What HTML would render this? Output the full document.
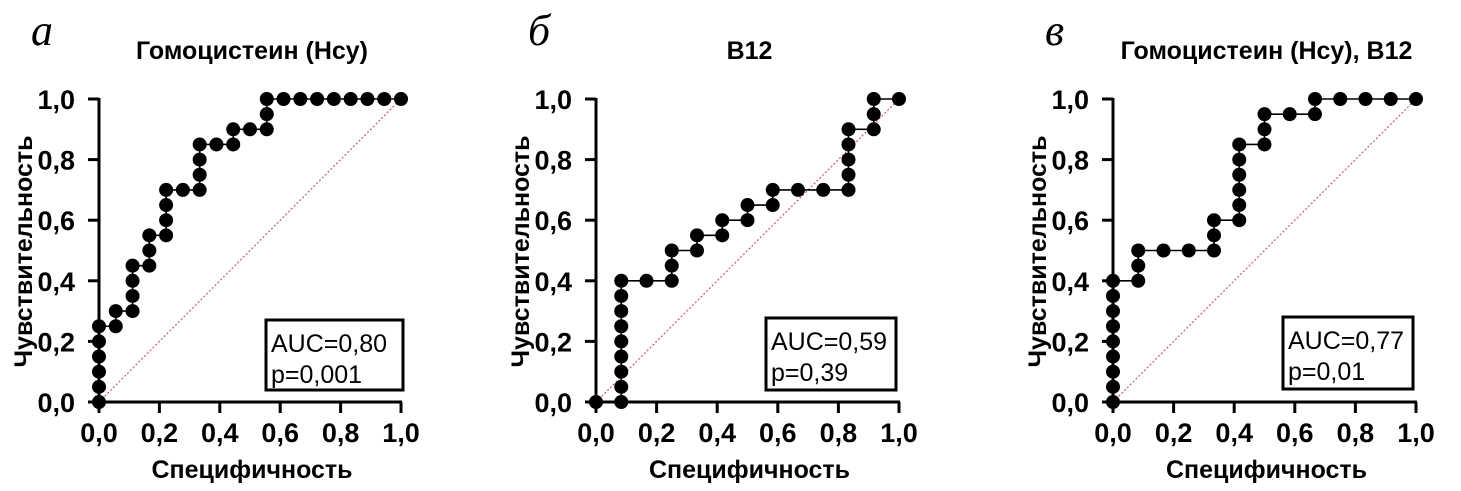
<!DOCTYPE html>
<html><head><meta charset="utf-8"><style>
body{margin:0;background:#fff;}
svg{display:block;font-family:"Liberation Sans",sans-serif;}
</style></head><body>
<svg id="chart" width="1461" height="491"></svg>
<script>
const ticks = [0, 0.2, 0.4, 0.6, 0.8, 1.0];
const tickLabels = ["0,0","0,2","0,4","0,6","0,8","1,0"];
const titles = ["Гомоцистеин (Hcy)", "B12", "Гомоцистеин (Hcy), B12"];
const letters = ["а", "б", "в"];
const aucLabels = ["AUC=0,80", "AUC=0,59", "AUC=0,77"];
const pLabels = ["p=0,001", "p=0,39", "p=0,01"];
const fprA = [0,0,0,0,0,0,1,1,2,2,2,2,3,3,3,4,4,4,4,5,6,6,6,6,7,8,8,9,10,10,10,11,12,13,14,15,16,17,18].map(v=>v/18);
const tprA = [0,.05,.1,.15,.2,.25,.25,.3,.3,.35,.4,.45,.45,.5,.55,.55,.6,.65,.7,.7,.7,.75,.8,.85,.85,.85,.9,.9,.9,.95,1,1,1,1,1,1,1,1,1];
const fprB = [0,1,1,1,1,1,1,1,1,1,2,3,3,3,4,4,5,5,6,6,7,7,8,9,10,10,10,10,10,11,11,11,12].map(v=>v/12);
const tprB = [0,0,.05,.1,.15,.2,.25,.3,.35,.4,.4,.4,.45,.5,.5,.55,.55,.6,.6,.65,.65,.7,.7,.7,.7,.75,.8,.85,.9,.9,.95,1,1];
const fprC = [0,0,0,0,0,0,0,0,0,1,1,1,2,3,4,4,4,5,5,5,5,5,5,6,6,6,7,8,8,9,10,11,12].map(v=>v/12);
const tprC = [0,.05,.1,.15,.2,.25,.3,.35,.4,.4,.45,.5,.5,.5,.5,.55,.6,.6,.65,.7,.75,.8,.85,.85,.9,.95,.95,.95,1,1,1,1,1];
const series = [[fprA,tprA],[fprB,tprB],[fprC,tprC]];

const NS="http://www.w3.org/2000/svg";
const svg=document.getElementById('chart');
function mk(tag,attrs,parent,text){const e=document.createElementNS(NS,tag);for(const k in attrs)e.setAttribute(k,attrs[k]);if(text!==undefined)e.textContent=text;parent.appendChild(e);return e;}
const panels=[{x0:99,x1:401,box:[266,320,137,70]},{x0:596,x1:899,box:[766,318,130,72]},{x0:1113,x1:1416,box:[1283,317,130,72]}];
const Y0=402, Y1=99;
panels.forEach((p,i)=>{
  const sx=v=>p.x0+v*(p.x1-p.x0);
  const sy=v=>Y0+v*(Y1-Y0);
  const g=mk('g',{},svg);
  
  
  const cx=(p.x0+p.x1)/2+2;
  const letter=mk('text',{x:p.x0-68,y:45,'font-family':'Liberation Serif,serif','font-style':'italic','font-size':44},g,letters[i]);
  
  
  const t=mk('text',{x:cx,y:59,'text-anchor':'middle','font-weight':'bold','font-size':25},g,titles[i]);
  
  
  const d=mk('line',{x1:sx(0),y1:sy(0),x2:sx(1),y2:sy(1),stroke:'#c06070','stroke-width':1.2,'stroke-dasharray':'2,2'},g);
  
  
  const ya=mk('line',{x1:p.x0,y1:Y1-1,x2:p.x0,y2:Y0+1,stroke:'#000','stroke-width':3},g);
  
  
  const xa=mk('line',{x1:p.x0-1,y1:Y0,x2:p.x1+1,y2:Y0,stroke:'#000','stroke-width':3},g);
  
  
  ticks.forEach((v,k)=>{
    mk('line',{x1:p.x0-11,y1:sy(v),x2:p.x0,y2:sy(v),stroke:'#000','stroke-width':3},g);
    mk('line',{x1:sx(v),y1:Y0,x2:sx(v),y2:Y0+11,stroke:'#000','stroke-width':3},g);
    const yl=mk('text',{x:p.x0-24,y:sy(v)+10,'text-anchor':'end','font-weight':'bold','font-size':27},g,tickLabels[k]);
    
    
    const xl=mk('text',{x:sx(v),y:442,'text-anchor':'middle','font-weight':'bold','font-size':27},g,tickLabels[k]);
    
    
  });
  const yt=mk('text',{x:0,y:0,transform:`translate(${p.x0-67},${(Y0+Y1)/2+1}) rotate(-90)`,'text-anchor':'middle','font-weight':'bold','font-size':25},g,'Чувствительность');
  
  
  const xt=mk('text',{x:cx,y:478,'text-anchor':'middle','font-weight':'bold','font-size':25},g,'Специфичность');
  
  
  const [fx,ty]=series[i];
  const pts=fx.map((v,k)=>sx(v)+','+sy(ty[k])).join(' ');
  const pl=mk('polyline',{points:pts,fill:'none',stroke:'#000','stroke-width':1.6},g);
  
  
  fx.forEach((v,k)=>{
    const c=mk('circle',{cx:sx(v),cy:sy(ty[k]),r:7,fill:'#000'},g);
    
    
  });
  const b=p.box;
  const bx=mk('rect',{x:b[0],y:b[1],width:b[2],height:b[3],fill:'#fff',stroke:'#000','stroke-width':3},g);
  
  
  const a=mk('text',{x:b[0]+5,y:b[1]+32,'font-size':25},g,aucLabels[i]);
  
  
  const pv=mk('text',{x:b[0]+5,y:b[1]+63,'font-size':25},g,pLabels[i]);
  
  
});
</script>
</body></html>
